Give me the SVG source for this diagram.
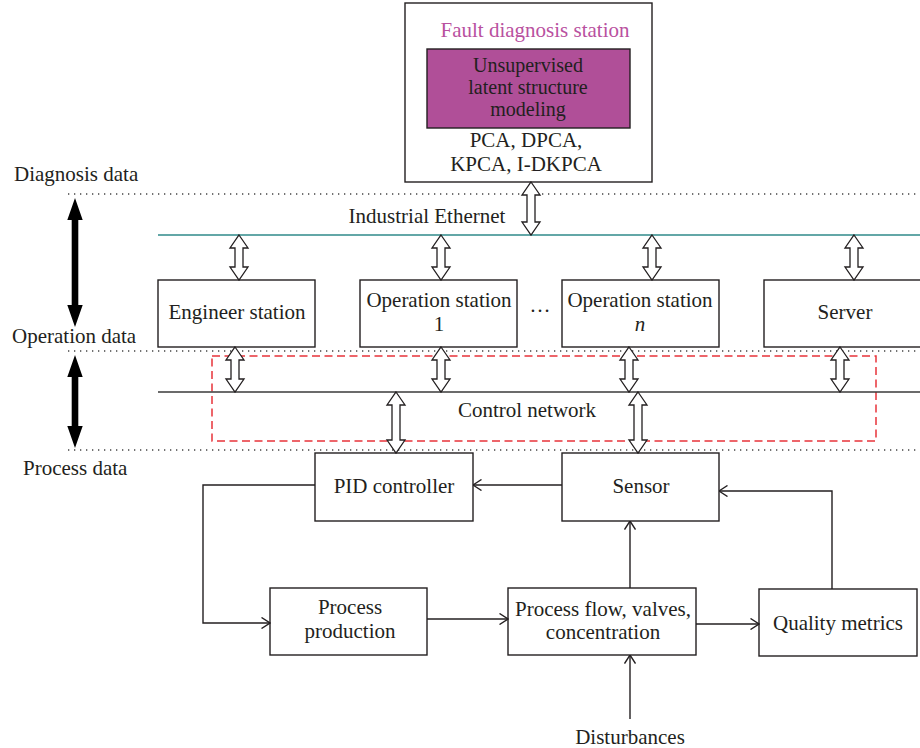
<svg xmlns="http://www.w3.org/2000/svg" width="920" height="748" viewBox="0 0 920 748">
<style>
text{font-family:"Liberation Serif","Times New Roman",serif;font-size:21px;fill:#231f20;text-anchor:middle}
.lbl{text-anchor:start}
.sm{font-size:20px}
.box{fill:#fff;stroke:#231f20;stroke-width:1.4}
.dot{stroke:#444;stroke-width:1.3;stroke-dasharray:1.3 4.7;fill:none}
.ha{fill:#fff;stroke:#231f20;stroke-width:1.3;stroke-linejoin:miter}
.ba{fill:#000}
.ln{fill:none;stroke:#231f20;stroke-width:1.4}
</style>
<defs>
<marker id="ah" markerUnits="userSpaceOnUse" viewBox="0 0 10 12" refX="9.5" refY="6" markerWidth="10" markerHeight="12" orient="auto">
<path d="M1,0.5 L9.5,6 L1,11.5" fill="none" stroke="#231f20" stroke-width="1.4"/>
</marker>
</defs>

<!-- layer labels and separators -->
<g id="layers">
<line class="dot" x1="68" y1="194" x2="920" y2="194"/>
<line class="dot" x1="68" y1="351" x2="920" y2="351"/>
<line class="dot" x1="68" y1="450" x2="920" y2="450"/>
<text class="lbl" x="14" y="181">Diagnosis data</text>
<text class="lbl" x="12" y="343">Operation data</text>
<text class="lbl" x="23" y="475">Process data</text>
<path class="ba" d="M75,198 L82.7,220 L78.3,220 L78.3,305 L82.7,305 L75,327 L67.3,305 L71.7,305 L71.7,220 L67.3,220 Z"/>
<path class="ba" d="M75,355 L82.7,377 L78.3,377 L78.3,426 L82.7,426 L75,448 L67.3,426 L71.7,426 L71.7,377 L67.3,377 Z"/>
</g>

<!-- networks -->
<g id="networks">
<line x1="158" y1="235" x2="920" y2="235" stroke="#2f8a8a" stroke-width="1.5"/>
<text x="427" y="223">Industrial Ethernet</text>
<rect x="212" y="356" width="664" height="85" fill="none" stroke="#e8333a" stroke-width="1.5" stroke-dasharray="8 4.5"/>
<line x1="158" y1="392" x2="920" y2="392" stroke="#3a3a3a" stroke-width="1.6"/>
<text x="527" y="417">Control network</text>
</g>

<g id="fault-station">
<rect class="box" x="405" y="3" width="247" height="179"/>
<text x="535" y="37" style="fill:#b9519f">Fault diagnosis station</text>
<rect x="427" y="49" width="203" height="79" fill="#b04f98" stroke="#231f20" stroke-width="1.4"/>
<text class="sm" x="528" y="72">Unsupervised</text>
<text class="sm" x="528" y="94">latent structure</text>
<text class="sm" x="528" y="116">modeling</text>
<text x="526" y="147">PCA, DPCA,</text>
<text x="526" y="171">KPCA, I-DKPCA</text>
</g>

<g id="engineer-station">
<rect class="box" x="158" y="280" width="157" height="67"/>
<text x="237" y="319">Engineer station</text>
</g>
<g id="operation-station-1">
<rect class="box" x="360" y="280" width="157" height="67"/>
<text x="439" y="307">Operation station</text>
<text x="439" y="331">1</text>
</g>
<text x="540" y="312">…</text>
<g id="operation-station-n">
<rect class="box" x="562" y="280" width="157" height="67"/>
<text x="640" y="307">Operation station</text>
<text x="640" y="331" font-style="italic">n</text>
</g>
<g id="server">
<rect class="box" x="764" y="280" width="160" height="67"/>
<text x="845" y="319">Server</text>
</g>

<g id="pid-controller">
<rect class="box" x="315" y="453" width="158" height="68"/>
<text x="394" y="493">PID controller</text>
</g>
<g id="sensor">
<rect class="box" x="562" y="453" width="157" height="68"/>
<text x="641" y="493">Sensor</text>
</g>
<g id="process-production">
<rect class="box" x="270" y="588" width="157" height="67"/>
<text x="350" y="614">Process</text>
<text x="350" y="638">production</text>
</g>
<g id="process-flow">
<rect class="box" x="508" y="588" width="188" height="67"/>
<text x="603" y="616">Process flow, valves,</text>
<text x="603" y="639">concentration</text>
</g>
<g id="quality-metrics">
<rect class="box" x="759" y="589" width="158" height="67"/>
<text x="838" y="630">Quality metrics</text>
</g>
<g id="disturbances">
<text x="630" y="744">Disturbances</text>
</g>

<g id="connectors">
<path class="ha" d="M531,182 L540,195 L535,195 L535,222 L540,222 L531,235 L522,222 L527,222 L527,195 L522,195 Z"/>
<path class="ha" d="M239,235 L248,248 L243,248 L243,267 L248,267 L239,280 L230,267 L235,267 L235,248 L230,248 Z"/>
<path class="ha" d="M441,235 L450,248 L445,248 L445,267 L450,267 L441,280 L432,267 L437,267 L437,248 L432,248 Z"/>
<path class="ha" d="M652,235 L661,248 L656,248 L656,267 L661,267 L652,280 L643,267 L648,267 L648,248 L643,248 Z"/>
<path class="ha" d="M854,235 L863,248 L858,248 L858,267 L863,267 L854,280 L845,267 L850,267 L850,248 L845,248 Z"/>
<path class="ha" d="M235,347 L244,360 L239,360 L239,379 L244,379 L235,392 L226,379 L231,379 L231,360 L226,360 Z"/>
<path class="ha" d="M441,347 L450,360 L445,360 L445,379 L450,379 L441,392 L432,379 L437,379 L437,360 L432,360 Z"/>
<path class="ha" d="M629,347 L638,360 L633,360 L633,379 L638,379 L629,392 L620,379 L625,379 L625,360 L620,360 Z"/>
<path class="ha" d="M840,347 L849,360 L844,360 L844,379 L849,379 L840,392 L831,379 L836,379 L836,360 L831,360 Z"/>
<path class="ha" d="M396,392 L405,405 L400,405 L400,440 L405,440 L396,453 L387,440 L392,440 L392,405 L387,405 Z"/>
<path class="ha" d="M638,392 L647,405 L642,405 L642,440 L647,440 L638,453 L629,440 L634,440 L634,405 L629,405 Z"/>
<path class="ln" d="M562,485 L473,485" marker-end="url(#ah)"/>
<path class="ln" d="M315,485 L203,485 L203,623 L270,623" marker-end="url(#ah)"/>
<path class="ln" d="M427,619 L508,619" marker-end="url(#ah)"/>
<path class="ln" d="M630,588 L630,521" marker-end="url(#ah)"/>
<path class="ln" d="M696,624 L759,624" marker-end="url(#ah)"/>
<path class="ln" d="M832,589 L832,491 L719,491" marker-end="url(#ah)"/>
<path class="ln" d="M630,719 L630,655" marker-end="url(#ah)"/>
</g>
</svg>
